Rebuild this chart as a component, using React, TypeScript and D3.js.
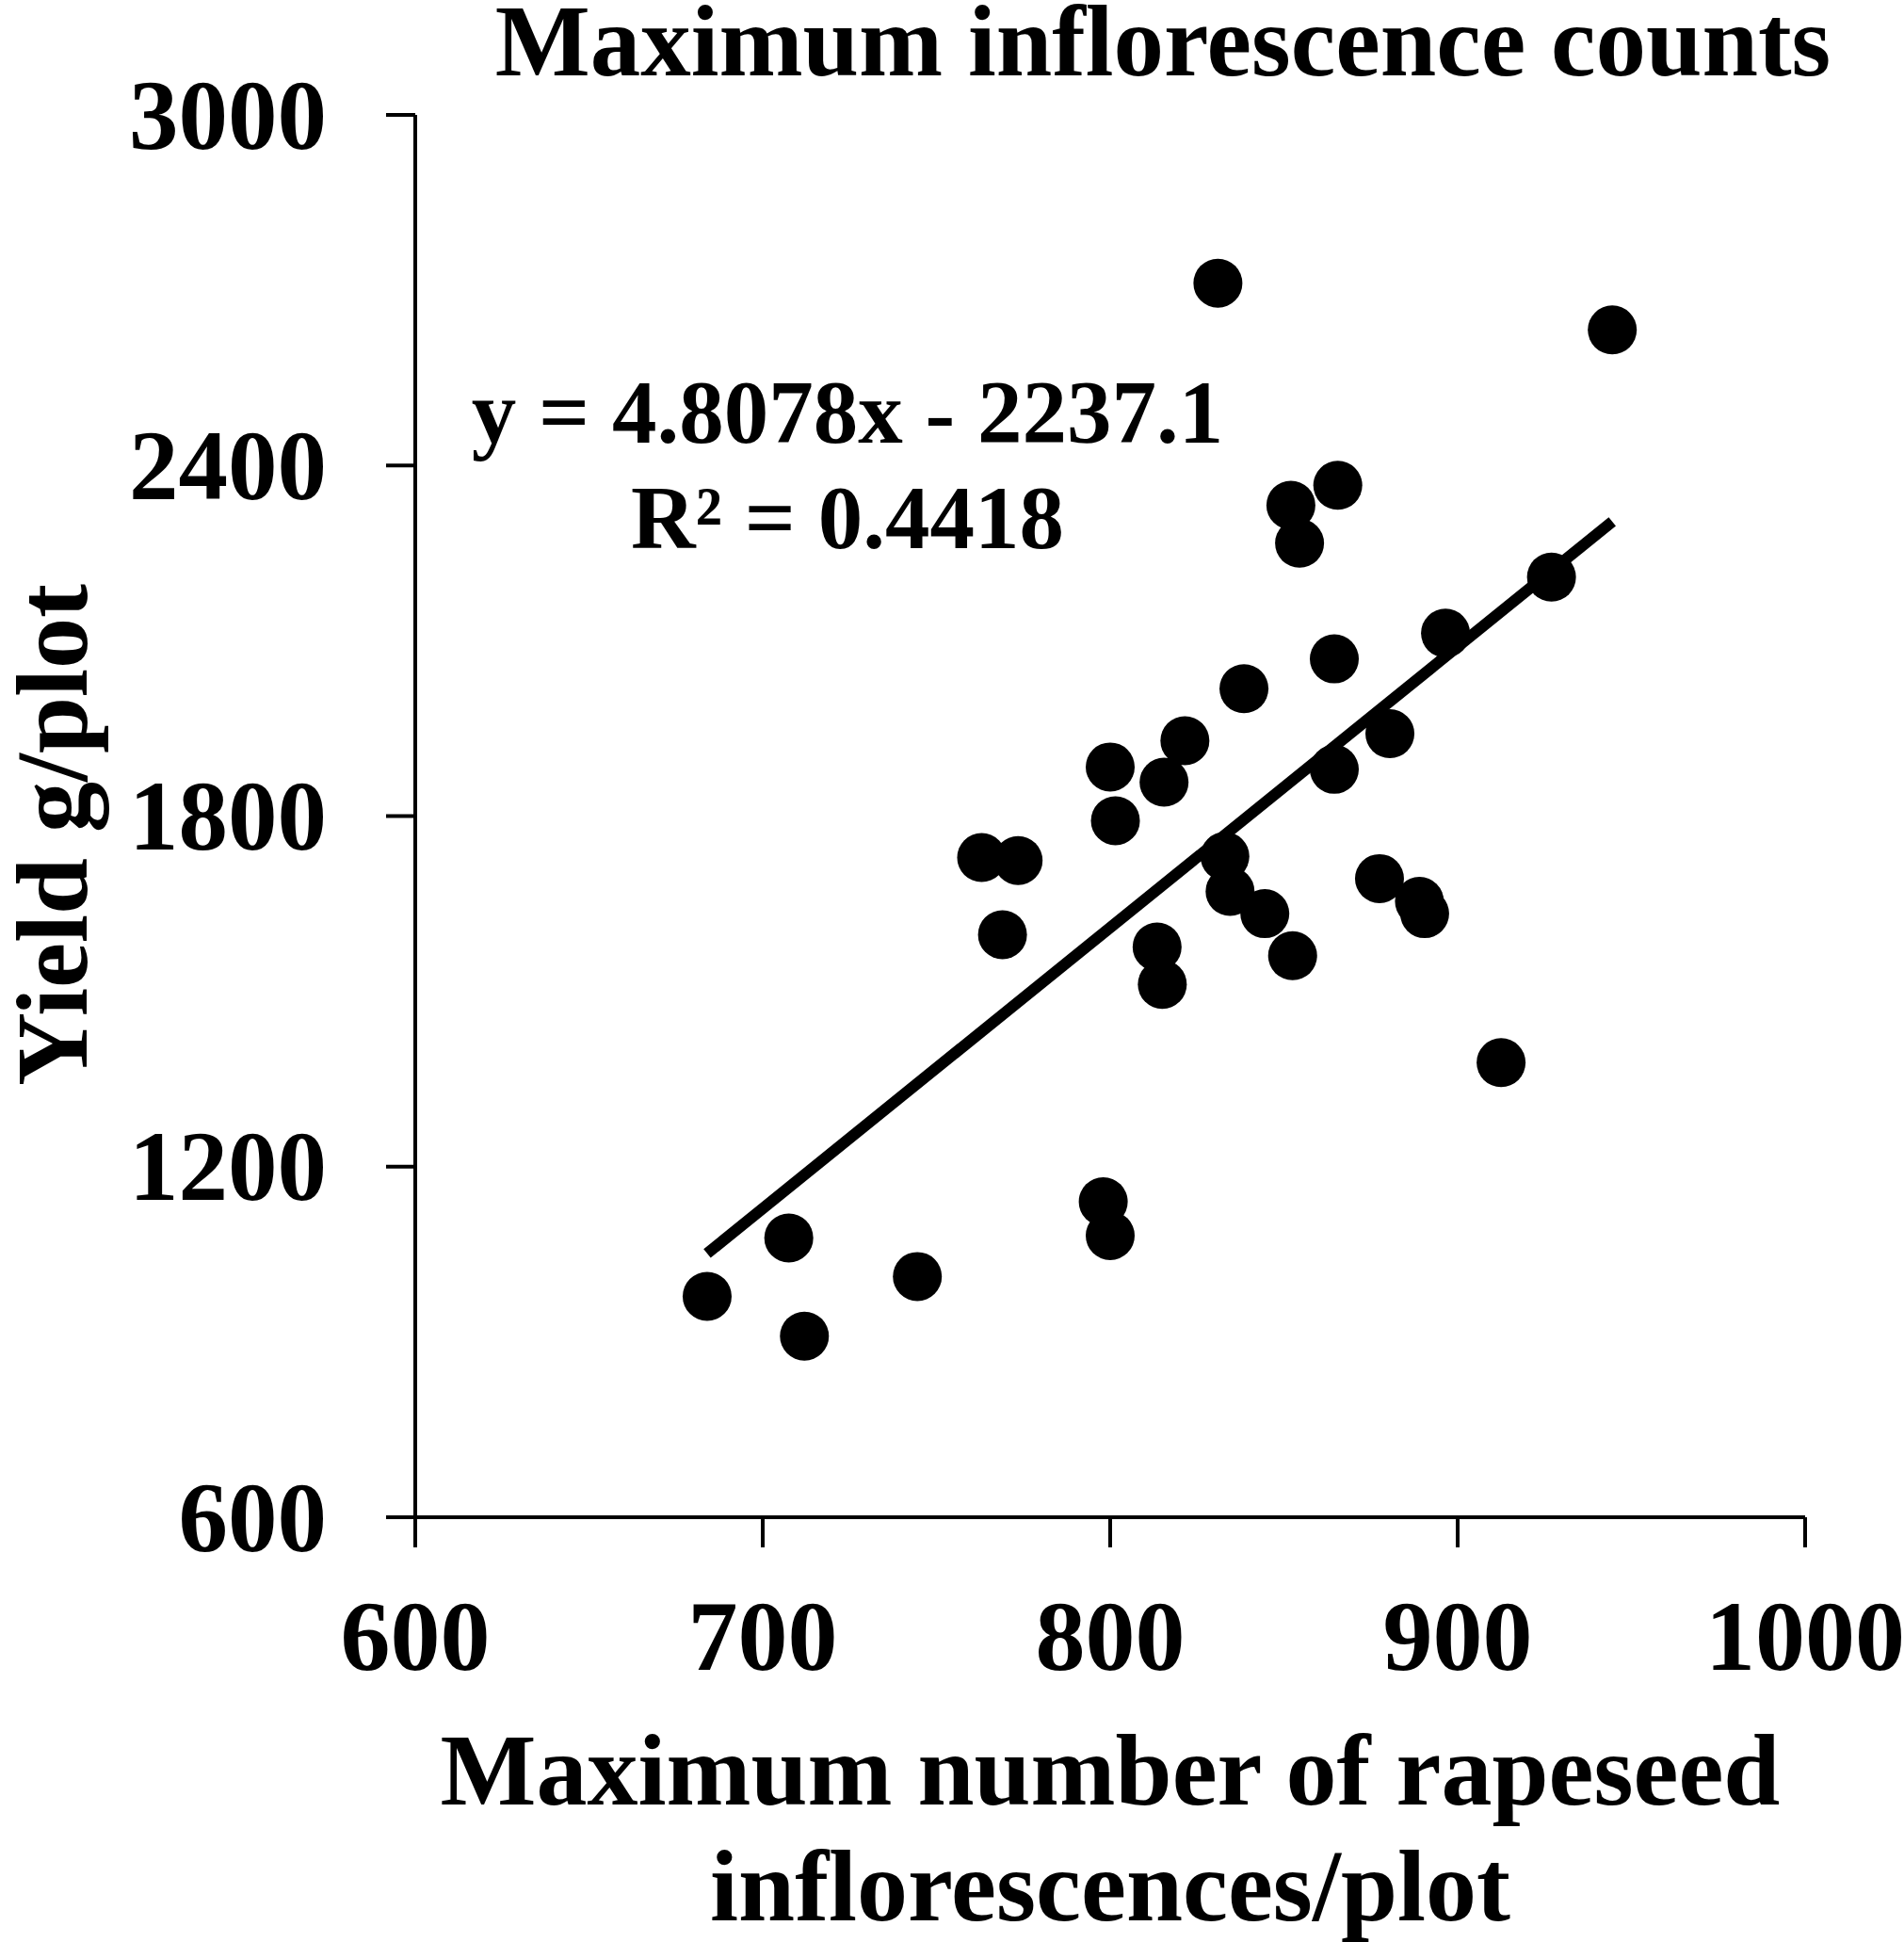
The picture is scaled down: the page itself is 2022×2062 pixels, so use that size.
import * as d3 from "d3";
import React from "react";

// chart values
const inflorescences = [
    831, 944.5, 852, 865.5, 854.5, 927, 896.5, 864.5, 838.5, 821.5, 880.5, 800,
    815.5, 864.5, 801.5, 763, 773.5, 833, 834.5, 844.5, 877.5, 889, 890.5, 769,
    813.5, 815, 852.5, 912.5, 798, 800, 707.5, 744.5, 684, 712,
];
const yieldPerPlot = [
    2712, 2632, 2332, 2366, 2267, 2209, 2113, 2069, 2018, 1929, 1941, 1884,
    1858, 1880, 1792, 1729, 1724, 1731, 1671, 1633, 1693, 1654, 1633, 1597,
    1576, 1512, 1561, 1378, 1140, 1082, 1078, 1012, 978, 910,
];
const xTicks = [600, 700, 800, 900, 1000];
const yTicks = [600, 1200, 1800, 2400, 3000];
const SLOPE = 4.8078;
const INTERCEPT = -2237.1;
const R2 = 0.4418;

const WIDTH = 2022;
const HEIGHT = 2062;
const MARGIN = { top: 122, right: 105, bottom: 451, left: 441 };
const FONT = "'Liberation Serif', 'Times New Roman', serif";

type Point = { x: number; y: number };

const App: React.FC = () => {
    const points: Point[] = inflorescences.map((x, i) => ({
        x,
        y: yieldPerPlot[i],
    }));

    // bounds = plotting area inside the axes
    const boundsWidth = WIDTH - MARGIN.left - MARGIN.right;
    const boundsHeight = HEIGHT - MARGIN.top - MARGIN.bottom;

    const xScale = d3
        .scaleLinear()
        .domain([xTicks[0], xTicks[xTicks.length - 1]])
        .range([0, boundsWidth]);
    const yScale = d3
        .scaleLinear()
        .domain([yTicks[0], yTicks[yTicks.length - 1]])
        .range([boundsHeight, 0]);

    // linear trend line over the range of the data
    const [xMin, xMax] = d3.extent(inflorescences) as [number, number];
    const trend = d3
        .line<number>()
        .x((d) => xScale(d))
        .y((d) => yScale(SLOPE * d + INTERCEPT))([xMin, xMax]);

    const cx = boundsWidth / 2;

    return (
        <svg
            width={WIDTH}
            height={HEIGHT}
            style={{ position: "absolute", left: 0, top: 0, background: "#fff" }}
            fontFamily={FONT}
            fontWeight="bold"
        >
            <text x={1235} y={80} fontSize={107} textAnchor="middle">
                Maximum inflorescence counts
            </text>
            <g transform={`translate(${MARGIN.left},${MARGIN.top})`}>
                {points.map((d, i) => (
                    <circle
                        key={i}
                        cx={xScale(d.x)}
                        cy={yScale(d.y)}
                        r={26}
                        fill="#000"
                    />
                ))}
                {trend && (
                    <path
                        d={trend}
                        stroke="#000"
                        strokeWidth={12}
                        fill="none"
                    />
                )}

                {/* y axis */}
                <line
                    x1={0}
                    x2={0}
                    y1={0}
                    y2={boundsHeight}
                    stroke="#000"
                    strokeWidth={4}
                />
                {yTicks.map((t) => (
                    <g key={t} transform={`translate(0,${yScale(t)})`}>
                        <line x1={-31} x2={0} stroke="#000" strokeWidth={4} />
                        <text
                            x={-94}
                            dy="0.34em"
                            fontSize={105}
                            textAnchor="end"
                        >
                            {t}
                        </text>
                    </g>
                ))}

                {/* x axis */}
                <line
                    x1={0}
                    x2={boundsWidth}
                    y1={boundsHeight}
                    y2={boundsHeight}
                    stroke="#000"
                    strokeWidth={4}
                />
                {xTicks.map((t) => (
                    <g
                        key={t}
                        transform={`translate(${xScale(t)},${boundsHeight})`}
                    >
                        <line y1={0} y2={32} stroke="#000" strokeWidth={4} />
                        <text y={162} fontSize={106} textAnchor="middle">
                            {t}
                        </text>
                    </g>
                ))}

                {/* regression label */}
                <text x={459} y={348} fontSize={95} textAnchor="middle">
                    {`y = ${SLOPE}x - ${Math.abs(INTERCEPT)}`}
                </text>
                <text x={459} y={460} fontSize={95} textAnchor="middle">
                    {`R² = ${R2}`}
                </text>

                {/* axis titles */}
                <text
                    x={cx}
                    y={boundsHeight + 305}
                    fontSize={108}
                    textAnchor="middle"
                >
                    Maximum number of rapeseed
                </text>
                <text
                    x={cx}
                    y={boundsHeight + 428}
                    fontSize={108}
                    textAnchor="middle"
                >
                    inflorescences/plot
                </text>
            </g>
            <text
                transform={`translate(92,${MARGIN.top + boundsHeight / 2 + 20}) rotate(-90)`}
                fontSize={108}
                textAnchor="middle"
            >
                Yield g/plot
            </text>
        </svg>
    );
};

export default App;
